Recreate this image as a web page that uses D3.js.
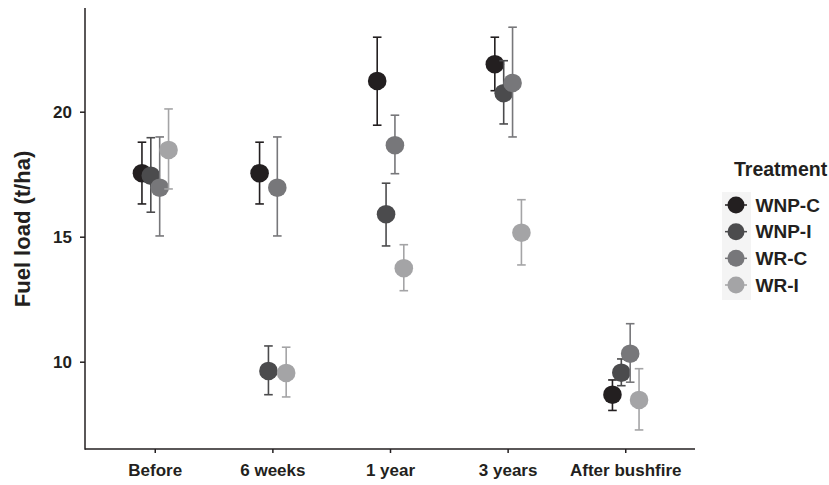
<!DOCTYPE html>
<html>
<head>
<meta charset="utf-8">
<script src="https://cdn.jsdelivr.net/npm/d3@7/dist/d3.min.js"></script>
<style>
  body { margin: 0; background: #fff; }
  svg { display: block; font-family: "Liberation Sans", Arial, Helvetica, sans-serif; }
</style>
</head>
<body>
<svg id="chart" width="829" height="485"></svg>
<script>
// ---- Data ----
const categories = ["Before", "6 weeks", "1 year", "3 years", "After bushfire"];
const seriesNames = ["WNP-C", "WNP-I", "WR-C", "WR-I"];
const yTicks = [10, 15, 20];

// means per category (order of categories), with lower / upper error bounds
const meanWNPC = [17.54, 17.54, 21.23, 21.90, 8.68];
const lowWNPC  = [16.31, 16.31, 19.46, 20.84, 8.05];
const highWNPC = [18.78, 18.78, 22.98, 22.98, 9.27];

const meanWNPI = [17.44, 9.63, 15.90, 20.74, 9.56];
const lowWNPI  = [15.98, 8.68, 14.63, 19.51, 9.04];
const highWNPI = [18.96, 10.63, 17.14, 22.04, 10.11];

const meanWRC = [16.96, 16.96, 18.66, 21.15, 10.32];
const lowWRC  = [15.03, 15.03, 17.52, 18.99, 9.18];
const highWRC = [18.99, 18.99, 19.86, 23.38, 11.52];

const meanWRI = [18.47, 9.55, 13.74, 15.16, 8.47];
const lowWRI  = [16.91, 8.59, 12.84, 13.87, 7.27];
const highWRI = [20.11, 10.58, 14.68, 16.48, 9.72];

const colors = ["#231f20", "#4b4b4d", "#77777a", "#a4a4a6"];

const seriesData = [
  {name: seriesNames[0], mean: meanWNPC, low: lowWNPC, high: highWNPC},
  {name: seriesNames[1], mean: meanWNPI, low: lowWNPI, high: highWNPI},
  {name: seriesNames[2], mean: meanWRC,  low: lowWRC,  high: highWRC},
  {name: seriesNames[3], mean: meanWRI,  low: lowWRI,  high: highWRI}
];

// ---- Layout ----
const svg = d3.select("#chart");
const mLeft = 85, mRight = 695, mTop = 8, mBottom = 449;
const axisColor = "#231f20";

const x = d3.scalePoint().domain(categories).range([mLeft, mRight]).padding(0.593);
const dodge = d3.scalePoint().domain(seriesNames).range([-12.8, 13.8]);
const y = d3.scaleLinear().domain([6.508, 24.148]).range([mBottom, mTop]);

// Axes
const yAxis = d3.axisLeft(y).tickValues(yTicks).tickSize(5).tickPadding(8).tickSizeOuter(0);
const gy = svg.append("g").attr("transform", `translate(${mLeft},0)`).call(yAxis);
gy.select(".domain").remove();
gy.selectAll(".tick line").attr("stroke", axisColor).attr("stroke-width", 1.5);
gy.selectAll(".tick text").attr("fill", "#231f20").style("font-size", "17px").style("font-weight", "bold");

const xAxis = d3.axisBottom(x).tickSize(4).tickPadding(11).tickSizeOuter(0);
const gx = svg.append("g").attr("transform", `translate(0,${mBottom})`).call(xAxis);
gx.select(".domain").remove();
gx.selectAll(".tick line").attr("stroke", axisColor).attr("stroke-width", 1.5);
gx.selectAll(".tick text").attr("fill", "#231f20").style("font-size", "17px").style("font-weight", "bold");

// axis lines
svg.append("line").attr("x1", mLeft).attr("x2", mLeft).attr("y1", mTop).attr("y2", mBottom + 0.75)
  .attr("stroke", axisColor).attr("stroke-width", 1.5);
svg.append("line").attr("x1", mLeft).attr("x2", mRight).attr("y1", mBottom).attr("y2", mBottom)
  .attr("stroke", axisColor).attr("stroke-width", 1.5);

// y label
svg.append("text")
  .attr("transform", `translate(30,229) rotate(-90)`)
  .attr("text-anchor", "middle")
  .attr("fill", "#231f20")
  .style("font-size", "22px").style("font-weight", "bold")
  .text("Fuel load (t/ha)");

// ---- Marks ----
const capW = 4.3, r = 9.3;
seriesData.forEach((s, si) => {
  const g = svg.append("g").attr("class", "series");
  const col = colors[si];
  categories.forEach((c, ci) => {
    const cx = x(c) + dodge(s.name);
    g.append("line").attr("x1", cx).attr("x2", cx)
      .attr("y1", y(s.low[ci])).attr("y2", y(s.high[ci]))
      .attr("stroke", col).attr("stroke-width", 1.6);
    [s.low[ci], s.high[ci]].forEach(v => {
      g.append("line").attr("x1", cx - capW).attr("x2", cx + capW)
        .attr("y1", y(v)).attr("y2", y(v))
        .attr("stroke", col).attr("stroke-width", 1.6);
    });
    g.append("circle").attr("cx", cx).attr("cy", y(s.mean[ci])).attr("r", r).attr("fill", col);
  });
});

// ---- Legend ----
const lg = svg.append("g");
lg.append("text").attr("x", 734).attr("y", 176)
  .attr("fill", "#231f20").style("font-size", "19.5px").style("font-weight", "bold")
  .text("Treatment");
const legY = d3.scalePoint().domain(seriesNames).range([205, 285]);
lg.append("rect").attr("x", 722).attr("y", 192).attr("width", 29).attr("height", 108)
  .attr("fill", "#f4f4f4");
seriesNames.forEach((n, i) => {
  const cy = legY(n);
  lg.append("line").attr("x1", 725).attr("x2", 747).attr("y1", cy).attr("y2", cy)
    .attr("stroke", colors[i]).attr("stroke-width", 1.5);
  lg.append("circle").attr("cx", 736).attr("cy", cy).attr("r", 8.5).attr("fill", colors[i]);
  lg.append("text").attr("x", 755.5).attr("y", cy + 6.7)
    .attr("fill", "#231f20").style("font-size", "19px").style("font-weight", "bold")
    .text(n);
});
</script>
</body>
</html>
